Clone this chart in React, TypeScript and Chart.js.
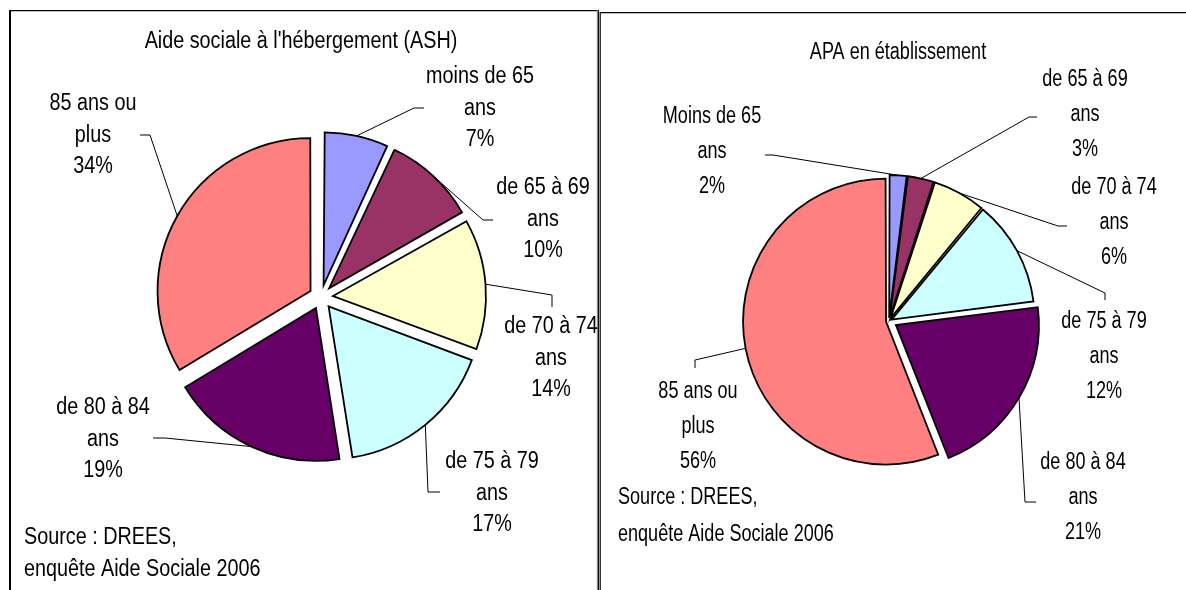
import { useEffect, useRef } from 'react';
import { Chart, registerables } from 'chart.js';

Chart.register(...registerables);

// ---------- data ----------
const ashTitle = "Aide sociale à l'hébergement (ASH)";
const ashCategories = ['moins de 65 ans', 'de 65 à 69 ans', 'de 70 à 74 ans', 'de 75 à 79 ans', 'de 80 à 84 ans', '85 ans ou plus'];
const ashLabelLines = [['moins de 65', 'ans'], ['de 65 à 69', 'ans'], ['de 70 à 74', 'ans'], ['de 75 à 79', 'ans'], ['de 80 à 84', 'ans'], ['85 ans ou', 'plus']];
const ashValues = [7, 10, 14, 17, 19, 34];

const apaTitle = 'APA en établissement';
const apaCategories = ['Moins de 65 ans', 'de 65 à 69 ans', 'de 70 à 74 ans', 'de 75 à 79 ans', 'de 80 à 84 ans', '85 ans ou plus'];
const apaLabelLines = [['Moins de 65', 'ans'], ['de 65 à 69', 'ans'], ['de 70 à 74', 'ans'], ['de 75 à 79', 'ans'], ['de 80 à 84', 'ans'], ['85 ans ou', 'plus']];
const apaValues = [2, 3, 6, 12, 21, 56];

const sourceLines = ['Source : DREES,', 'enquête Aide Sociale 2006'];

// ---------- styles / layout ----------
const sliceColors = ['#9999FF', '#993366', '#FFFFCC', '#CCFFFF', '#660066', '#FF8080'];
const FONT = "'Liberation Sans', Arial, sans-serif";
const W = 1186;
const H = 590;

type Lay = { x: number; y: number; path: [number, number][] };

const ashLayout: Lay[] = [
  { x: 480, y: 77, path: [[414, 108], [424, 108]] },
  { x: 543, y: 188, path: [[483, 220], [493, 220]] },
  { x: 551, y: 327, path: [[552, 295], [552, 307]] },
  { x: 492, y: 462, path: [[428, 492], [440, 492]] },
  { x: 103, y: 408, path: [[165, 438], [153, 438]] },
  { x: 93, y: 104, path: [[150, 135], [140, 135]] },
];

const apaLayout: Lay[] = [
  { x: 712, y: 117, path: [[773, 155], [765, 155]] },
  { x: 1085, y: 80, path: [[1029, 117], [1037, 117]] },
  { x: 1114, y: 188, path: [[1058, 226], [1067, 226]] },
  { x: 1104, y: 322, path: [[1105, 293], [1105, 300]] },
  { x: 1083, y: 463, path: [[1025, 502], [1036, 502]] },
  { x: 698, y: 392, path: [[695, 360], [695, 368]] },
];

function drawText(ctx: CanvasRenderingContext2D, t: string, x: number, y: number, align: CanvasTextAlign, sx: number) {
  ctx.save();
  ctx.translate(x, y);
  ctx.scale(sx, 1);
  ctx.textAlign = align;
  ctx.fillText(t, 0, 0);
  ctx.restore();
}

const decorPlugin: any = {
  id: 'decor',
  beforeDraw(chart: any, _a: any, opts: any) {
    const ctx = chart.ctx;
    ctx.save();
    for (const ln of opts.frame) {
      ctx.lineWidth = ln.w;
      ctx.strokeStyle = ln.c;
      ctx.beginPath();
      ctx.moveTo(ln.x1, ln.y1);
      ctx.lineTo(ln.x2, ln.y2);
      ctx.stroke();
    }
    ctx.restore();
  },
  beforeDatasetsDraw(chart: any, _a: any, opts: any) {
    const meta = chart.getDatasetMeta(0);
    meta.data.forEach((arc: any) => {
      const off = (arc.options.offset || 0) / 4;
      const fix = 1 - Math.sin(Math.min(Math.PI, arc.circumference || 0));
      arc.outerRadius = opts.radius - off * fix;
    });
  },
  afterDatasetsDraw(chart: any, _a: any, opts: any) {
    const ctx = chart.ctx;
    const meta = chart.getDatasetMeta(0);
    const values = chart.data.datasets[0].data as number[];
    const total = values.reduce((a: number, b: number) => a + b, 0);
    const sx = opts.scaleX;
    ctx.save();
    ctx.font = `${opts.fontSize}px ${FONT}`;
    ctx.fillStyle = '#000';
    ctx.textBaseline = 'middle';
    drawText(ctx, opts.title, opts.titleX, opts.titleY, 'center', sx);
    meta.data.forEach((arc: any, i: number) => {
      const lay: Lay = opts.layout[i];
      const off = (arc.options.offset || 0) / 4;
      const mid = (arc.startAngle + arc.endAngle) / 2;
      const r = opts.radius + off;
      const ax = arc.x + Math.cos(mid) * r;
      const ay = arc.y + Math.sin(mid) * r;
      ctx.strokeStyle = '#000';
      ctx.lineWidth = 1;
      ctx.beginPath();
      ctx.moveTo(ax, ay);
      for (const p of lay.path) ctx.lineTo(p[0], p[1]);
      ctx.stroke();
      const lines = [...opts.labelLines[i], Math.round((values[i] / total) * 100) + '%'];
      lines.forEach((t: string, k: number) => drawText(ctx, t, lay.x, lay.y + k * opts.lineHeight, 'center', sx));
    });
    sourceLines.forEach((t, k) => drawText(ctx, t, opts.sourceX, opts.sourceY + k * opts.sourceGap, 'left', sx));
    ctx.restore();
  },
};

function makeChart(canvas: HTMLCanvasElement, cfg: any) {
  return new Chart(canvas, {
    type: 'pie',
    data: {
      labels: cfg.categories,
      datasets: [
        {
          data: cfg.values,
          backgroundColor: sliceColors,
          borderColor: '#000',
          borderWidth: 1.8,
          borderJoinStyle: 'miter',
          offset: cfg.offsets,
        } as any,
      ],
    },
    options: {
      responsive: false,
      animation: false,
      events: [],
      radius: cfg.radius,
      layout: {
        padding: {
          left: cfg.cx - 200,
          right: W - cfg.cx - 200,
          top: cfg.cy - 200,
          bottom: H - cfg.cy - 200,
        },
      },
      plugins: {
        legend: { display: false },
        tooltip: { enabled: false },
        decor: {
          radius: cfg.radius,
          title: cfg.title,
          titleX: cfg.titleX,
          titleY: cfg.titleY,
          layout: cfg.layout,
          labelLines: cfg.labelLines,
          lineHeight: cfg.lineHeight,
          fontSize: cfg.fontSize,
          scaleX: cfg.scaleX,
          sourceX: cfg.sourceX,
          sourceY: cfg.sourceY,
          sourceGap: cfg.sourceGap,
          frame: cfg.frame,
        },
      } as any,
    } as any,
    plugins: [decorPlugin],
  });
}

export default function App() {
  const leftRef = useRef<HTMLCanvasElement>(null);
  const rightRef = useRef<HTMLCanvasElement>(null);

  useEffect(() => {
    const a = makeChart(leftRef.current!, {
      categories: ashCategories,
      values: ashValues,
      labelLines: ashLabelLines,
      offsets: [48, 48, 48, 48, 48, 48],
      radius: 153,
      cx: 321,
      cy: 297,
      title: ashTitle,
      titleX: 301,
      titleY: 42,
      layout: ashLayout,
      lineHeight: 31.5,
      fontSize: 23,
      scaleX: 0.86,
      sourceX: 24,
      sourceY: 538,
      sourceGap: 32,
      frame: [
        { x1: 10, y1: 10.6, x2: 10, y2: 600, w: 2, c: '#000' },
        { x1: 9, y1: 10.6, x2: 598, y2: 10.6, w: 1.4, c: '#000' },
        { x1: 597.2, y1: 10, x2: 597.2, y2: 600, w: 1, c: '#bbb' },
        { x1: 598.3, y1: 10, x2: 598.3, y2: 600, w: 1.3, c: '#000' },
      ],
    });
    const b = makeChart(rightRef.current!, {
      categories: apaCategories,
      values: apaValues,
      labelLines: apaLabelLines,
      offsets: [12, 12, 12, 12, 32, 12],
      radius: 143,
      cx: 889,
      cy: 321,
      title: apaTitle,
      titleX: 898,
      titleY: 53,
      layout: apaLayout,
      lineHeight: 35,
      fontSize: 23,
      scaleX: 0.785,
      sourceX: 618,
      sourceY: 498,
      sourceGap: 37,
      frame: [
        { x1: 600.2, y1: 12, x2: 600.2, y2: 600, w: 1.2, c: '#000' },
        { x1: 600, y1: 12.6, x2: 1190, y2: 12.6, w: 1.3, c: '#000' },
      ],
    });
    return () => {
      a.destroy();
      b.destroy();
    };
  }, []);

  return (
    <div style={{ position: 'absolute', left: 0, top: 0, width: W, height: H, overflow: 'hidden', background: '#fff' }}>
      <canvas ref={leftRef} width={W} height={H} style={{ position: 'absolute', left: 0, top: 0 }} />
      <canvas ref={rightRef} width={W} height={H} style={{ position: 'absolute', left: 0, top: 0 }} />
    </div>
  );
}
